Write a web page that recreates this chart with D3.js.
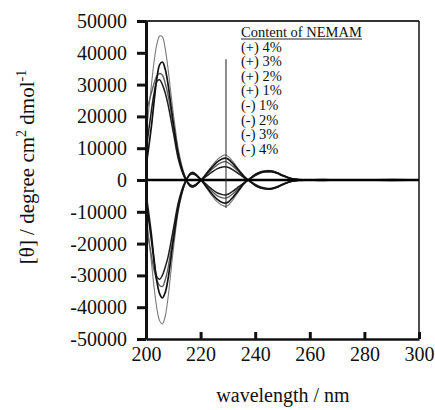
<!DOCTYPE html>
<html>
<head>
  <meta charset="UTF-8">
  <script src="https://d3js.org/d3.v7.min.js"></script>
  <style>
    body { margin: 0; background: #fff; }
    text { font-family: "Liberation Serif", "Times New Roman", serif; fill: #111; }
  </style>
</head>
<body>
<script>
// wavelength grid (nm)
var wavelength = [200,202,203,204,205,206,207,208,210,212,214,216,217,218,220,222,224,226,228,229,
                  230,232,234,236,238,240,242,244,246,248,250,252,254,256,260,265,270,280,290,300];

// molar ellipticity, one array per sample
var plus4 = [14000,30000,37500,42800,45300,45000,41500,35500,21000,9000,2000,-1800,-2300,-2000,-300,2000,4300,6300,7600,7900,
             7500,5600,3300,1200,-300,-1700,-2600,-2900,-2900,-2400,-1500,-800,-300,-100,100,150,0,100,-100,0];
var plus3 = [4000,17000,25000,32000,36300,37100,35000,30500,18000,7500,1500,-1800,-2200,-1800,-200,1800,3800,5600,6700,6900,
             6600,5000,3000,1000,-400,-1700,-2500,-2800,-2800,-2300,-1500,-800,-300,-100,0,100,0,0,100,0];
var plus2 = [21000,27500,30500,32800,33500,33000,30500,27000,17000,7000,1200,-1600,-2000,-1700,-200,1500,3200,4700,5600,5800,
             5500,4200,2600,900,-400,-1600,-2400,-2700,-2700,-2200,-1400,-700,-300,-100,100,0,100,0,0,100];
var plus1 = [9000,22000,27500,31000,31500,30000,27500,24000,15000,6000,1000,-1400,-1800,-1500,-200,1100,2400,3500,4100,4200,
             4000,3100,1900,700,-300,-1400,-2200,-2600,-2600,-2100,-1300,-700,-300,-100,0,0,100,0,0,0];
var minus1 = [-4000,-17000,-25000,-30500,-31200,-30000,-27500,-24500,-15500,-6500,-1200,1500,1900,1600,200,-1300,-2800,-4000,-4600,-4700,
              -4500,-3400,-2100,-800,300,1400,2200,2500,2500,2100,1300,700,300,100,0,-100,0,-100,0,0];
var minus2 = [-14000,-24000,-28500,-31500,-33200,-33500,-31500,-28000,-17500,-7500,-1500,1700,2100,1800,200,-1700,-3400,-4900,-5600,-5700,
              -5500,-4200,-2600,-900,400,1600,2400,2700,2700,2200,1400,700,300,100,-100,0,-100,0,0,-100];
var minus3 = [-6000,-19000,-26000,-32000,-35800,-37100,-35500,-31500,-19000,-8000,-1600,1800,2300,1900,200,-2000,-4200,-6000,-7100,-7300,
              -7000,-5300,-3100,-1000,400,1700,2500,2800,2800,2300,1500,800,300,100,0,-100,0,0,-100,0];
var minus4 = [-10000,-26000,-34000,-40500,-44300,-45300,-43000,-37500,-22000,-9000,-2000,2000,2500,2100,300,-2300,-4800,-6800,-8000,-8300,
              -8000,-6000,-3500,-1200,400,1800,2700,3000,2900,2400,1600,900,400,150,0,-100,0,-100,0,0];

var legendTitle = "Content of NEMAM";
var legendLabels = ["(+) 4%", "(+) 3%", "(+) 2%", "(+) 1%", "(-) 1%", "(-) 2%", "(-) 3%", "(-) 4%"];
var xTicks = [200, 220, 240, 260, 280, 300];
var yTicks = [-50000,-40000,-30000,-20000,-10000,0,10000,20000,30000,40000,50000];
var markerWavelength = 229.3;
var markerRange = [38000, -8800];

// line looks (thin gray / black alternate in the picture)
var series = [
  {values: plus4,  color: "#7a7a7a", width: 1.1},
  {values: minus4, color: "#7a7a7a", width: 1.1},
  {values: plus2,  color: "#606060", width: 1.4},
  {values: minus2, color: "#606060", width: 1.4},
  {values: plus1,  color: "#1e1e1e", width: 1.5},
  {values: minus1, color: "#1e1e1e", width: 1.5},
  {values: plus3,  color: "#111",    width: 1.7},
  {values: minus3, color: "#111",    width: 1.7}
];

var W = 435, H = 410;
var plotL = 146, plotR = 419, plotT = 21, plotB = 339;

var svg = d3.select("body").append("svg")
    .attr("width", W)
    .attr("height", H);

var x = d3.scaleLinear().domain([200, 300]).range([plotL, plotR]);
var y = d3.scaleLinear().domain([-50000, 50000]).range([plotB, plotT]);

// frame: top and right borders
svg.append("line")
    .attr("x1", plotL).attr("x2", plotR).attr("y1", plotT).attr("y2", plotT)
    .attr("stroke", "#333").attr("stroke-width", 2);
svg.append("line")
    .attr("x1", plotR).attr("x2", plotR).attr("y1", plotT).attr("y2", plotB)
    .attr("stroke", "#222").attr("stroke-width", 1.6);

// curves
var line = d3.line()
    .x(function(d, i) { return x(wavelength[i]); })
    .y(function(d) { return y(d); })
    .curve(d3.curveCatmullRom);

svg.append("g").selectAll("path")
    .data(series)
  .enter().append("path")
    .attr("d", function(s) { return line(s.values); })
    .attr("fill", "none")
    .attr("stroke", function(s) { return s.color; })
    .attr("stroke-width", function(s) { return s.width; })
    .attr("stroke-linejoin", "round");

// zero line
svg.append("line")
    .attr("x1", plotL).attr("x2", plotR).attr("y1", y(0)).attr("y2", y(0))
    .attr("stroke", "#000").attr("stroke-width", 2.4);

// vertical marker
svg.append("line")
    .attr("x1", x(markerWavelength)).attr("x2", x(markerWavelength))
    .attr("y1", y(markerRange[0])).attr("y2", y(markerRange[1]))
    .attr("stroke", "#333").attr("stroke-width", 1.1);

// Y axis
var yAxis = svg.append("g")
    .attr("transform", "translate(" + plotL + ",0)")
    .call(d3.axisLeft(y).tickValues(yTicks).tickSize(9).tickSizeOuter(0).tickPadding(10)
      .tickFormat(function(d) { return String(d); }));
yAxis.select(".domain").attr("stroke", "#111").attr("stroke-width", 3);
yAxis.selectAll(".tick line").attr("stroke", "#111").attr("stroke-width", 3);
yAxis.selectAll("text").attr("font-size", 20).attr("fill", "#111")
    .style("font-family", "'Liberation Serif', serif");

// X axis (ticks point inward)
var xAxis = svg.append("g")
    .attr("transform", "translate(0," + plotB + ")")
    .call(d3.axisBottom(x).tickValues(xTicks).tickSize(-7).tickSizeOuter(0).tickPadding(8)
      .tickFormat(function(d) { return String(d); }));
xAxis.select(".domain").attr("stroke", "#111").attr("stroke-width", 2.6);
xAxis.selectAll(".tick line").attr("stroke", "#111").attr("stroke-width", 3);
xAxis.selectAll("text").attr("font-size", 20).attr("fill", "#111")
    .style("font-family", "'Liberation Serif', serif");

// axis titles
svg.append("text")
    .attr("x", 283).attr("y", 402)
    .attr("text-anchor", "middle")
    .attr("font-size", 20)
    .text("wavelength / nm");

var yt = svg.append("text")
    .attr("transform", "translate(34,167) rotate(-90)")
    .attr("text-anchor", "middle")
    .attr("font-size", 21);
yt.append("tspan").text("[\u03b8] / degree cm");
yt.append("tspan").attr("font-size", 14).attr("dy", -8).text("2");
yt.append("tspan").attr("dy", 8).text(" dmol");
yt.append("tspan").attr("font-size", 14).attr("dy", -8).text("-1");

// legend
svg.append("text")
    .attr("x", 241).attr("y", 37)
    .attr("font-size", 14.5)
    .text(legendTitle);
svg.append("line")
    .attr("x1", 241).attr("x2", 362).attr("y1", 39).attr("y2", 39)
    .attr("stroke", "#222").attr("stroke-width", 1);

svg.append("g").selectAll("text")
    .data(legendLabels)
  .enter().append("text")
    .attr("x", 241)
    .attr("y", function(d, i) { return 51.5 + i * 14.6; })
    .attr("font-size", 14.5)
    .text(function(d) { return d; });
</script>
</body>
</html>
